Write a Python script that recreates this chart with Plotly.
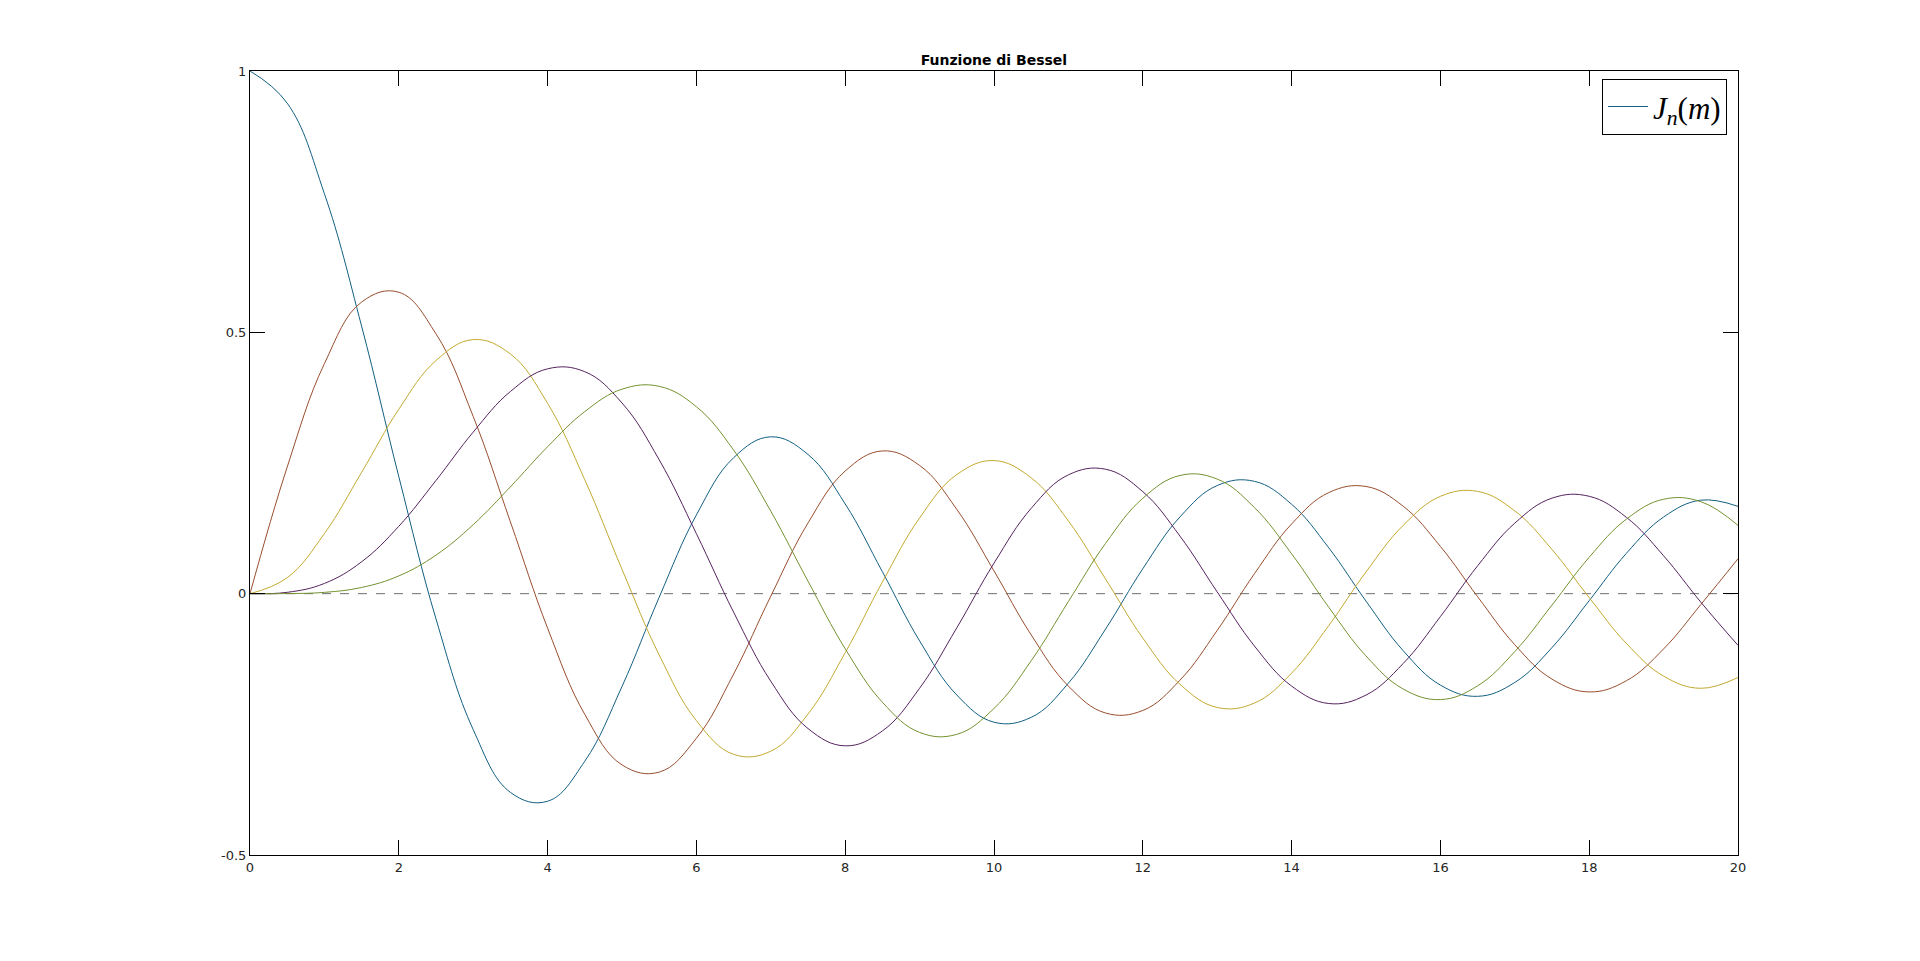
import plotly.graph_objects as go

x = [i * 0.5 for i in range(41)]

j0 = [1.0, 0.93847, 0.76520, 0.51183, 0.22389, -0.04838, -0.26005, -0.38013, -0.39715, -0.32054,
      -0.17760, -0.00684, 0.15065, 0.26009, 0.30008, 0.26634, 0.17165, 0.04194, -0.09033, -0.19393,
      -0.24594, -0.23664, -0.17119, -0.06765, 0.04769, 0.14688, 0.20693, 0.21498, 0.17107, 0.08756,
      -0.01422, -0.10910, -0.17490, -0.19640, -0.16985, -0.10310, -0.01336, 0.07720, 0.14663, 0.17890,
      0.16702]
j1 = [0.0, 0.24227, 0.44005, 0.55794, 0.57672, 0.49709, 0.33906, 0.13738, -0.06604, -0.23106,
      -0.32758, -0.34142, -0.27668, -0.15384, -0.00468, 0.13525, 0.23464, 0.27312, 0.24531, 0.16126,
      0.04347, -0.07885, -0.17679, -0.22837, -0.22345, -0.16548, -0.07032, 0.03804, 0.13337, 0.19340,
      0.20510, 0.16730, 0.09040, -0.00576, -0.09767, -0.16350, -0.18799, -0.16660, -0.10570, -0.02090,
      0.06683]
j2 = [0.0, 0.03061, 0.11490, 0.23209, 0.35283, 0.44605, 0.48609, 0.45863, 0.36413, 0.21785,
      0.04657, -0.11731, -0.24288, -0.30743, -0.30142, -0.23027, -0.11299, 0.02232, 0.14484, 0.22788,
      0.25463, 0.22162, 0.13905, 0.02793, -0.08493, -0.17336, -0.21775, -0.20934, -0.15202, -0.06088,
      0.04157, 0.13069, 0.18620, 0.19570, 0.15836, 0.08441, -0.00753, -0.09521, -0.15776, -0.18104,
      -0.16034]
j3 = [0.0, 0.00256, 0.01956, 0.06096, 0.12894, 0.21659, 0.30906, 0.38677, 0.43017, 0.42470,
      0.36484, 0.25610, 0.11476, -0.03535, -0.16756, -0.25806, -0.29114, -0.26262, -0.18094, -0.06531,
      0.05838, 0.16328, 0.22735, 0.23808, 0.19514, 0.11000, 0.00332, -0.10007, -0.17680, -0.21019,
      -0.19401, -0.13357, -0.04385, 0.05320, 0.13493, 0.18279, 0.18632, 0.14601, 0.07249, -0.01624,
      -0.09890]
j4 = [0.0, 0.00016, 0.00248, 0.01186, 0.03400, 0.07378, 0.13203, 0.20440, 0.28113, 0.34842,
      0.39124, 0.39669, 0.35764, 0.27480, 0.15780, 0.02382, -0.10537, -0.20770, -0.26547, -0.26913,
      -0.21960, -0.12832, -0.01504, 0.09629, 0.18250, 0.22616, 0.21928, 0.16486, 0.07625, -0.02610,
      -0.11917, -0.18239, -0.20264, -0.17635, -0.11074, -0.02174, 0.06964, 0.14256, 0.18065, 0.17604,
      0.13067]

series = [j0, j1, j2, j3, j4]
colors = ["#135f82", "#984e2e", "#c4aa30", "#55235f", "#74922f"]

x_ticks = list(range(0, 21, 2))
y_ticks = [-0.5, 0, 0.5, 1]
y_tick_text = ["-0.5", "0", "0.5", "1"]

fig = go.Figure()
fig.add_trace(go.Scatter(x=[0, 20], y=[0, 0], mode="lines",
                         line=dict(color="#6f6f6f", width=1, dash="dash"),
                         showlegend=False, hoverinfo="skip"))
for i, (s, c) in enumerate(zip(series, colors)):
    fig.add_trace(go.Scatter(x=x, y=s, mode="lines",
                             line=dict(color=c, width=1, shape="spline", smoothing=1.15),
                             name="<i>J</i><sub><i>n</i></sub>(<i>m</i>)",
                             showlegend=(i == 0)))

axis_common = dict(showline=True, linecolor="black", linewidth=1, mirror="ticks",
                   ticks="inside", ticklen=15, tickwidth=1, tickcolor="black",
                   showgrid=False, zeroline=False,
                   tickfont=dict(family="DejaVu Sans", size=13, color="#262626"))

fig.update_layout(
    width=1920, height=961,
    margin=dict(l=242, r=190, t=63, b=114),
    paper_bgcolor="white", plot_bgcolor="white",
    title=dict(text="<b>Funzione di Bessel</b>", x=0.5135, xanchor="center", y=0.946, yanchor="middle",
               font=dict(family="DejaVu Sans", size=14, color="black")),
    xaxis=dict(range=[0, 20], tickvals=x_ticks, **axis_common),
    yaxis=dict(range=[-0.5, 1], tickvals=y_ticks, ticktext=y_tick_text, **axis_common),
    legend=dict(x=0.9926, y=0.99, xanchor="right", yanchor="top",
                bordercolor="black", borderwidth=1, bgcolor="white",
                font=dict(family="Liberation Serif", size=31, color="black"),
                itemwidth=40, tracegroupgap=0),
    showlegend=True,
)

fig.write_html("out.html")
